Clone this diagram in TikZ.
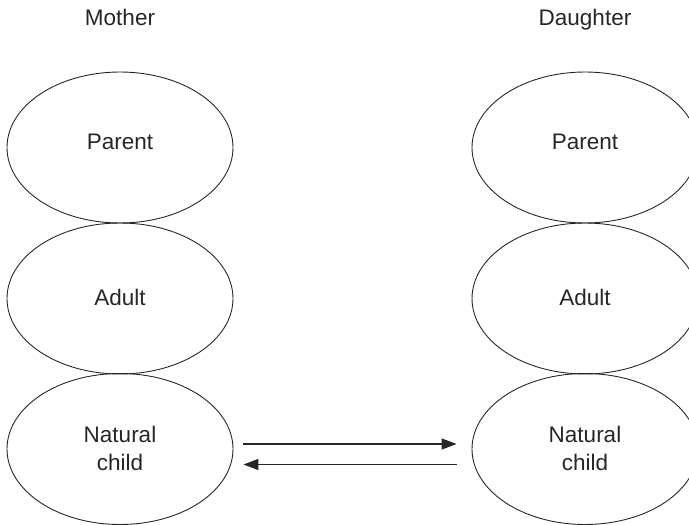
\documentclass[tikz,border=0pt]{standalone}
\usepackage{fontspec}
\setmainfont{Liberation Sans}
\usetikzlibrary{shapes.geometric,arrows.meta}
\definecolor{ink}{HTML}{262626}
\tikzset{
  ego/.style={ellipse,draw=ink,line width=0.9pt,minimum width=226pt,minimum height=151pt,inner sep=0pt},
  lbl/.style={inner sep=0pt,anchor=base,text=ink,font=\fontsize{22.5}{28}\selectfont,align=center},
  flow/.style={draw=ink,line width=1.3pt,-{Triangle[length=15pt,width=11pt]}}
}
\begin{document}
\begin{tikzpicture}[x=1pt,y=-1pt]
\useasboundingbox (0,0) rectangle (689,525);
\clip (0,0) rectangle (689,525);
% ellipses
\node[ego] (L1) at (120,147.5) {};
\node[ego] (L2) at (120,298.5) {};
\node[ego] (L3) at (120,449) {};
\node[ego] (R1) at (585,147.5) {};
\node[ego] (R2) at (585,298.5) {};
\node[ego] (R3) at (585,449) {};
% headings
\node[lbl] (mother) at (120,25) {Mother};
\node[lbl] (daughter) at (585,25) {Daughter};
% labels
\node[lbl] (tL1) at (120,149) {Parent};
\node[lbl] (tL2) at (120,305) {Adult};
\node[lbl] (tL3) at (120,470) {Natural\\child};
\node[lbl] (tR1) at (585,149) {Parent};
\node[lbl] (tR2) at (585,305) {Adult};
\node[lbl] (tR3) at (585,470) {Natural\\child};
% arrows
\draw[flow] ([xshift=10pt,yshift=5pt]L3.east) -- ([xshift=-15pt,yshift=5pt]R3.west);
\draw[flow] ([xshift=-15pt,yshift=-15.5pt]R3.west) -- ([xshift=10pt,yshift=-15.5pt]L3.east);
\end{tikzpicture}
\end{document}
